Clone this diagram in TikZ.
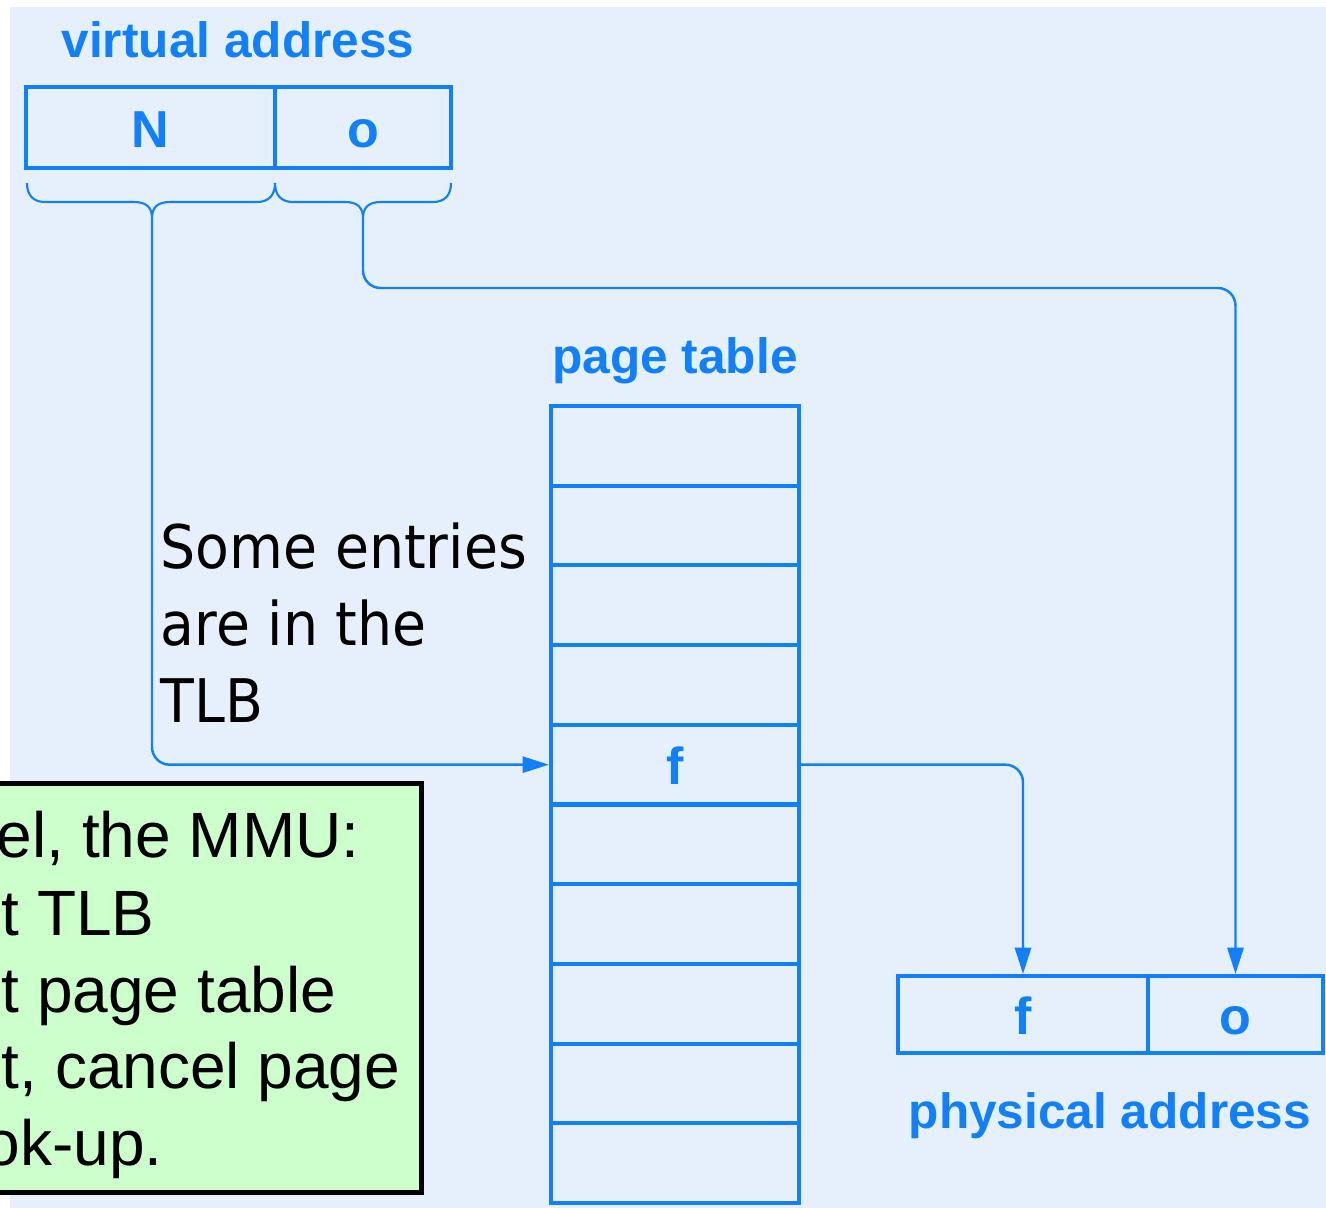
\documentclass[tikz,border=0pt]{standalone}
\usepackage{fontspec}
\setmainfont{Liberation Sans}
\newfontfamily\notefont[FakeStretch=0.92]{DejaVu Sans}
\usetikzlibrary{arrows.meta}

\definecolor{linkblue}{RGB}{16,128,255}
\definecolor{panelbg}{RGB}{230,240,253}
\definecolor{notegreen}{RGB}{204,255,204}

\tikzset{
  cell/.style={draw=linkblue, line width=1.15pt, inner sep=0pt,
    text=linkblue, font=\fontsize{14.8}{16}\selectfont\bfseries,
    text height=11.1pt, text depth=0pt},
  tablerow/.style={cell, minimum width=2.48cm, minimum height=0.797cm},
  caption/.style={text=linkblue, inner sep=0pt, anchor=base,
    font=\fontsize{14.1}{16}\selectfont\bfseries},
  brace/.style={draw=linkblue, line width=0.6pt},
  link/.style={draw=linkblue, line width=0.7pt, rounded corners=5pt,
    -{Triangle[length=7.5pt,width=4.6pt]}},
  remark/.style={inner sep=0pt, anchor=base west, text=black,
    font=\notefont\fontsize{17.1}{20}\selectfont},
  notetext/.style={inner sep=0pt, anchor=base west, text=black,
    font=\fontsize{18.2}{21}\selectfont},
  notebox/.style={draw=black, fill=notegreen, line width=1.4pt,
    minimum width=7.21cm, minimum height=4.08cm, inner sep=0pt}
}

\begin{document}
\begin{tikzpicture}[x=0.01cm, y=-0.01cm]
\useasboundingbox (0,0) rectangle (1326,1208);
\clip (0,0) rectangle (1326,1208);
\fill[white] (0,0) rectangle (1326,1208);
\fill[panelbg] (10,7) rectangle (1326,1208);

% virtual address
\node[caption] (vlabel) at (238,57) {virtual address};
\node[cell, minimum width=2.49cm, minimum height=0.81cm] (vn) at (150.5,127.5) {N};
\node[cell, minimum width=1.76cm, minimum height=0.81cm] (vo) at (363,127.5) {o};

% braces under the two fields
\path[brace] (27,183) .. controls (27,195) and (33,202) .. (45,202) -- (134,202)
  .. controls (146,202) and (152,207) .. (152,218)
  .. controls (152,207) and (158,202) .. (170,202) -- (257,202)
  .. controls (269,202) and (275,195) .. (275,183);
\path[brace] (275,183) .. controls (275,195) and (281,202) .. (293,202) -- (345,202)
  .. controls (357,202) and (363,207) .. (363,218)
  .. controls (363,207) and (369,202) .. (381,202) -- (433,202)
  .. controls (445,202) and (451,195) .. (451,183);
\coordinate (ntip) at (152,218);
\coordinate (otip) at (363,218);
\coordinate (orun) at (0,288);

% page table
\node[caption] (plabel) at (675,373) {page table};
\foreach \i in {1,...,10} {
  \node[tablerow] (row\i) at (675,{406+79.7*(\i-0.5)}) {};
}
\node[cell, draw=none] (frow) at (row5.center) {f};

% physical address
\node[cell, minimum width=2.5cm, minimum height=0.77cm] (pf) at (1023,1014.5) {f};
\node[cell, minimum width=1.75cm, minimum height=0.77cm] (po) at (1235.5,1014.5) {o};
\node[caption] (phlabel) at (1110,1128) {physical address};

% connectors
\path[link] (ntip) |- (row5.west);
\path[link] (row5.east) -| (pf.north);
\path[link] (otip) |- (po.north |- orun) -- (po.north);

% remark beside the page table
\node[remark] (r1) at (160,568) {Some entries};
\node[remark] (r2) at (160,645) {are in the};
\node[remark] (r3) at (160,722) {TLB};

% green note
\node[notebox] (note) at (60.5,988) {};
\node[notetext] (n1) at (-4,857) {el, the MMU:};
\node[notetext] (n2) at (1,935) {t TLB};
\node[notetext] (n3) at (1,1012) {t page table};
\node[notetext] (n4) at (1,1088) {t, cancel page};
\node[notetext] (n5) at (-16,1165) {ok-up.};
\end{tikzpicture}
\end{document}
